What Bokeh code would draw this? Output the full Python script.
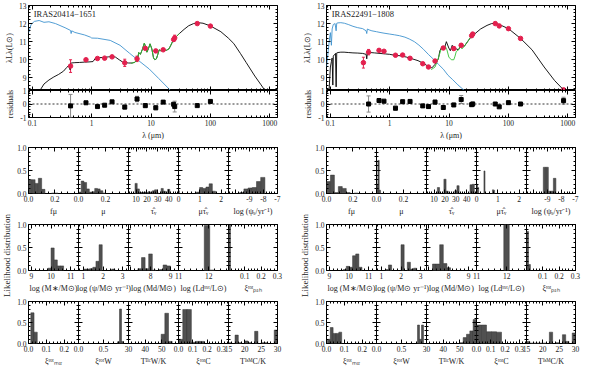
import math
from bokeh.plotting import figure
from bokeh.models import (Range1d, LinearAxis, LogAxis, FixedTicker, SingleIntervalTicker,
                          PrintfTickFormatter, Whisker, ColumnDataSource,
                          TeeHead, Span, Label, CustomJSTickFormatter)
from bokeh.layouts import row, column
from bokeh.embed import file_html
from bokeh.resources import INLINE
from bokeh.core.properties import value

FONT = "Liberation Serif"
TICK_FS = "7.5px"
LAB_FS = "8px"
BLUE = "#3f93cf"
GREEN = "#34c234"
RED = "#e3204e"
BAR = "#505050"

# ======================= DATA : IRAS20414-1651 (left) =======================
L_name = "IRAS20414\u22121651"
L_blue_lam = [0.087, 0.095, 0.108, 0.13, 0.157, 0.19, 0.245, 0.356, 0.44, 0.45, 0.46, 0.52, 0.76, 0.95, 1.0,
              1.25, 2.05, 3.0, 4.3, 6.3, 9.3, 13.5, 21.0]
L_blue_val = [11.51, 11.95, 12.12, 12.17, 12.07, 12.10, 12.0, 11.77, 11.62, 11.45, 11.6, 11.51, 11.37, 11.25,
              11.2, 11.19, 11.07, 10.8, 10.37, 9.93, 9.49, 8.96, 8.32]
L_black_lam = [0.134, 0.157, 0.19, 0.23, 0.277, 0.335, 0.38, 0.415, 0.43, 0.44, 0.45, 0.52, 0.62, 0.76, 0.9,
               1.05, 1.15, 1.3, 1.6, 1.9, 2.2, 2.5, 2.9, 3.3, 3.7, 4.2, 4.8, 5.3, 5.9, 6.2, 6.6, 7.1, 7.7,
               8.1, 8.5, 9.0, 9.6, 10.3, 11.0, 11.6, 12.3, 13.0, 13.7, 14.5, 16.0, 18.0, 20.0, 21.5, 23.0,
               25.0, 27.0, 30.0, 36, 43, 52, 62, 75, 100, 150, 200, 247, 320, 400, 560, 700, 830]
L_black_val = [8.30, 8.66, 8.88, 9.05, 9.19, 9.37, 9.58, 9.70, 9.45, 9.78, 9.82, 9.84, 9.85, 9.87, 9.88,
               9.90, 10.08, 10.12, 10.12, 10.16, 10.18, 10.15, 10.0, 9.88, 9.84, 9.82, 9.82, 9.86, 10.0, 10.4,
               10.3, 10.55, 10.92, 10.7, 10.42, 10.6, 10.88, 10.6, 10.1, 10.0, 10.05, 10.3, 10.55, 10.5,
               10.55, 10.52, 10.6, 10.8, 11.0, 11.15, 11.3, 11.45, 11.68, 11.88, 12.0, 12.05, 12.02, 11.87,
               11.55, 11.2, 10.9, 10.35, 9.85, 9.1, 8.65, 8.3]
L_green_lam = [4.6, 5.3, 5.9, 6.2, 6.6, 7.1, 7.7, 8.1, 8.5, 9.0, 9.6, 10.3, 11.0, 11.6, 12.3, 13.0, 13.7,
               14.5, 16.0, 18.0, 20.0, 21.5, 23.0, 25.0, 27.0, 30.0]
L_green_val = [9.80, 9.86, 10.0, 10.4, 10.3, 10.55, 10.92, 10.7, 10.42, 10.6, 10.88, 10.6, 10.1, 10.0, 10.05,
               10.3, 10.55, 10.5, 10.55, 10.52, 10.6, 10.8, 11.0, 11.15, 11.3, 11.45]
L_obs_lam = [0.44, 0.8, 1.25, 1.65, 2.2, 3.6, 5.8, 8.0, 12.0, 16.0, 24.0, 25.0, 60.0, 100.0]
L_obs_val = [9.65, 10.0, 10.07, 10.09, 10.16, 9.83, 10.05, 10.63, 10.49, 10.55, 11.12, 11.21, 12.0, 11.86]
L_obs_err = [0.35, 0.0, 0.0, 0.0, 0.0, 0.2, 0.15, 0.0, 0.08, 0.0, 0.1, 0.15, 0.0, 0.0]
L_res_val = [-0.14, 0.09, -0.19, -0.09, 0.16, -0.23, 0.37, -0.12, -0.28, 0.14, -0.02, -0.19, -0.12, 0.19]
L_res_err = [0.85, 0.0, 0.0, 0.0, 0.0, 0.15, 0.2, 0.15, 0.15, 0.0, 0.0, 0.4, 0.0, 0.0]

# histograms: (first bin edge, bin width, heights)
L_fmu = (0.0, 0.025, [0.30, 0.30, 0.22, 0.33, 0.09, 0.0, 0.0, 0.01, 0.01])
L_mu = (0.0, 0.02, [0.03, 0.27, 0.24, 0.10, 0.03, 0.04, 0.11, 0.10, 0.06, 0.01])
L_tau = (9.0, 2.0, [0.22, 0.10, 0.02, 0.02, 0.03, 0.02, 0.04, 0.02, 0.06, 0.08, 0.01, 0.0, 0.11, 0.05, 0.0, 0.09])
L_mutau = (0.84, 0.15, [0.03, 0.13, 0.11, 0.14, 0.21, 0.05])
L_mutau0 = (0.0, 0.04, [0.06])
L_psiS = (-9.7, 0.3, [0.02, 0.10, 0.12, 0.13, 0.26, 0.35])
L_Ms = (9.84, 0.16, [0.05, 0.49, 0.23, 0.10, 0.10])
L_psi = (1.0, 0.16, [0.03, 0.03, 0.04, 0.07, 0.20, 0.56, 0.0, 0.0, 0.0, 0.03])
L_Md = (7.37, 0.18, [0.04, 0.28, 0.04, 0.36, 0.01, 0.0, 0.02, 0.12, 0.10])
L_Ld = (11.85, 0.18, [0.98, 0.01])
L_PAH = (0.0, 0.012, [1.0])
L_MIR = (0.013, 0.018, [0.73, 0.27])
L_W = (0.78, 0.04, [0.04, 0.82, 0.05])
L_TBC = (49.6, 2.2, [0.22, 0.72, 0.05])
L_XiC = (0.0, 0.03, [0.10, 0.81, 0.81, 0.03, 0.05, 0.05])
L_TISM = (15.0, 1.0, [0.02, 0.0, 0.20, 0.02, 0.0, 0.06, 0.02, 0.0, 0.29, 0.0, 0.02, 0.02, 0.0, 0.0, 0.32])

# ======================= DATA : IRAS22491-1808 (right) =======================
R_name = "IRAS22491\u22121808"
R_blue_lam = [0.086, 0.092, 0.097, 0.10, 0.104, 0.107, 0.112, 0.12, 0.125, 0.128, 0.134, 0.15, 0.172, 0.2,
              0.24, 0.284, 0.35, 0.40, 0.41, 0.42, 0.45, 0.5, 0.6, 0.686, 0.8, 1.0, 1.2, 1.46, 1.8, 2.13,
              2.6, 3.1, 3.7, 4.53, 5.5, 6.6, 8.0, 9.6, 11.5, 14.1, 18.1]
R_blue_val = [9.6, 10.5, 11.2, 11.5, 10.8, 11.7, 11.95, 12.0, 11.6, 12.02, 12.04, 12.05, 12.02, 11.95,
              11.85, 11.78, 11.72, 11.6, 11.45, 11.7, 11.65, 11.6, 11.55, 11.51, 11.47, 11.42, 11.38, 11.33,
              11.25, 11.15, 11.0, 10.81, 10.58, 10.28, 10.02, 9.75, 9.48, 9.14, 8.9, 8.61, 8.3]
R_black_lam = [0.095, 0.1, 0.104, 0.107, 0.11, 0.112, 0.118, 0.122, 0.125, 0.128, 0.134, 0.15, 0.17, 0.2,
               0.24, 0.29, 0.35, 0.40, 0.41, 0.42, 0.47, 0.55, 0.686, 0.85, 1.0, 1.2, 1.5, 1.9, 2.4, 3.0,
               3.8, 4.5, 5.13, 5.82, 6.6, 7.0, 7.7, 8.3, 9.0, 9.9, 10.5, 11.3, 12.4, 13.2, 14.4, 15.9,
               18.1, 20.5, 23.2, 26.4, 33.9, 43.6, 52, 60, 70, 100, 160, 250, 400, 600, 870]
R_black_val = [8.3, 9.6, 9.9, 10.1, 8.6, 10.2, 10.3, 10.35, 8.5, 10.38, 10.4, 10.42, 10.42, 10.4,
               10.38, 10.37, 10.35, 10.3, 10.05, 10.4, 10.4, 10.38, 10.35, 10.32, 10.3, 10.25, 10.22, 10.15,
               10.05, 9.95, 9.78, 9.62, 9.55, 9.75, 10.05, 10.5, 10.75, 10.6, 11.0, 10.65, 10.5, 10.8,
               10.55, 10.6, 10.55, 10.8, 10.75, 11.0, 11.25, 11.4, 11.7, 11.9, 12.0, 12.02, 11.95, 11.72,
               11.18, 10.55, 9.6, 8.85, 8.3]
R_green_lam = [5.0, 5.8, 6.3, 6.9, 7.5, 8.0, 8.6, 9.2, 9.9, 10.9, 12.0, 12.6, 13.2, 14.4, 15.5, 16.5, 18.1,
               20.5, 23.2, 26.4]
R_green_val = [9.45, 9.6, 9.9, 10.3, 10.7, 10.55, 10.75, 10.55, 10.15, 10.0, 10.0, 10.2, 10.45, 10.55,
               10.75, 10.6, 10.75, 11.0, 11.25, 11.4]
R_obs_lam = [0.36, 0.44, 0.66, 0.8, 1.25, 1.65, 2.2, 3.6, 4.5, 5.8, 8.0, 12.0, 16.0, 24.0, 25.0, 60.0,
             70.0, 100.0, 160.0, 850.0]
R_obs_val = [9.84, 10.42, 10.52, 10.47, 10.25, 10.26, 10.08, 9.78, 9.6, 9.93, 10.65, 10.62, 10.8, 11.33,
             11.42, 12.0, 11.87, 11.72, 11.18, 8.33]
R_obs_err = [0.3, 0.15, 0.0, 0.0, 0.0, 0.0, 0.0, 0.0, 0.0, 0.08, 0.0, 0.08, 0.1, 0.0, 0.08, 0.0, 0.0, 0.0,
             0.0, 0.1]
R_res_lam = [0.44, 0.66, 0.8, 1.25, 1.65, 2.2, 3.6, 4.5, 5.8, 8.0, 12.0, 16.0, 24.0, 25.0, 60.0, 70.0,
             100.0, 160.0, 850.0]
R_res_val = [0.0, 0.26, 0.21, -0.31, 0.17, 0.19, -0.14, -0.19, 0.14, -0.26, -0.07, 0.33, -0.05, 0.0, 0.0,
             -0.21, 0.1, 0.0, 0.25]
R_res_err = [0.6, 0.0, 0.0, 0.15, 0.12, 0.1, 0.1, 0.12, 0.15, 0.12, 0.12, 0.3, 0.1, 0.15, 0.0, 0.0, 0.0,
             0.0, 0.25]

R_fmu = (0.0, 0.03, [0.26, 0.40, 0.02, 0.15, 0.11, 0.02, 0.0, 0.01])
R_mu = (0.0, 0.01, [0.20, 0.72, 0.07])
R_tau = (13.0, 2.0, [0.13, 0.0, 0.0, 0.31, 0.05, 0.0, 0.0, 0.0, 0.06, 0.17, 0.0, 0.0, 0.0, 0.0, 0.0, 0.19, 0.20])
R_mutau = (0.0, 0.05, [0.20, 0.13, 0.0, 0.0, 0.0, 0.0, 0.0, 0.49, 0.0, 0.0, 0.0, 0.0, 0.0, 0.0, 0.0, 0.08, 0.07])
R_psiS = (-9.3, 0.18, [0.57, 0.57, 0.05, 0.05, 0.33])
R_Ms = (9.7, 0.16, [0.02, 0.09, 0.07, 0.32, 0.36, 0.07])
R_psi = (1.2, 0.16, [0.02, 0.12, 0.0, 0.0, 0.0, 0.56, 0.0, 0.18, 0.03, 0.05])
R_Md = (7.2, 0.18, [0.14, 0.14, 0.56, 0.15, 0.06])
R_Ld = (11.9, 0.18, [1.0])
R_PAH = (0.0, 0.012, [0.85, 0.13])
R_MIR = (0.005, 0.016, [0.10, 0.38, 0.24, 0.24, 0.27])
R_W = (0.82, 0.04, [0.44, 0.10, 0.44])
R_TBC = (50.0, 2.0, [0.02, 0.14, 0.22, 0.30, 0.57])
R_XiC = (0.0, 0.035, [0.44, 0.44, 0.28, 0.28, 0.27])
R_TISM = (15.0, 1.0, [0.05, 0.01, 0.01, 0.01, 0.01, 0.01, 0.0, 0.27, 0.0, 0.02, 0.0, 0.21, 0.05, 0.0, 0.25])

# axis specs for the 3x5 histogram grid: (range, major step, minor count, labels hidden, format, title)
AX_ROWS = [
    [((0.0, 0.38), 0.2, 4, [], "%.1f", "f\u03bc"),
     ((0.0, 0.37), 0.2, 4, [], "%.1f", "\u03bc"),
     ((3.0, 49.0), 10, 5, [], "%d", "\u03c4\u0302\u1d65"),
     ((0.0, 2.35), 1, 5, [], "%d", "\u03bc\u03c4\u0302\u1d65"),
     ((-10.5, -6.999), 1, 5, [-10], "%d", "log (\u03c8\u209b/yr\u207b\u00b9)")],
    [((8.85, 11.4), 1, 5, [], "%d", "log (M\u2217/M\u2299)"),
     ((0.75, 3.3), 1, 5, [], "%d", "log (\u03c8/M\u2299 yr\u207b\u00b9)"),
     ((6.9, 9.4), 1, 5, [7], "%d", "log (Md/M\u2299)"),
     ((10.999, 12.65), 1, 5, [], "%d", "log (Ld\u1d57\u1d52\u1d57/L\u2299)"),
     ((0.0, 0.3005), 0.1, 5, [0], "%.1f", "\u03be\u1d57\u1d52\u1d57\u209a\u2090\u2095")],
    [((0.0, 0.28), 0.1, 5, [], "%.1f", "\u03be\u1d57\u1d52\u1d57\u2098\u1d62\u1d63"),
     ((0.0, 1.0), 0.5, 5, [1], "%.1f", "\u03be\u1d57\u1d52\u1d57W"),
     ((29.999, 60.0), 10, 5, [60], "%d", "T\u1d2e\u1d9cW/K"),
     ((0.0, 0.35), 0.1, 5, [], "%.1f", "\u03be\u1d57\u1d52\u1d57C"),
     ((14.999, 30.001), 5, 5, [], "%d", "T\u1d35\u02e2\u1d39C/K")],
]
L_HIST = [[L_fmu, L_mu, L_tau, L_mutau, L_psiS], [L_Ms, L_psi, L_Md, L_Ld, L_PAH],
          [L_MIR, L_W, L_TBC, L_XiC, L_TISM]]
R_HIST = [[R_fmu, R_mu, R_tau, R_mutau, R_psiS], [R_Ms, R_psi, R_Md, R_Ld, R_PAH],
          [R_MIR, R_W, R_TBC, R_XiC, R_TISM]]
L_EXTRA = {(0, 3): L_mutau0}

LAM_MAJOR = [0.1, 1, 10, 100, 1000]
LAM_MINOR = [m * 10.0 ** k for k in range(-2, 4) for m in range(2, 10)]


# ======================= helpers =======================
def style_axis(ax, labels=True, fmt=None):
    ax.major_tick_in = 4
    ax.major_tick_out = 0
    ax.minor_tick_in = 2
    ax.minor_tick_out = 0
    ax.axis_line_color = None
    ax.major_tick_line_color = "black"
    ax.minor_tick_line_color = "black"
    ax.major_label_text_font = FONT
    ax.major_label_text_color = "#222222"
    ax.axis_label_text_font = FONT
    ax.axis_label_text_font_style = "normal"
    ax.axis_label_text_font_size = LAB_FS
    ax.axis_label_text_color = "#222222"
    ax.axis_label_standoff = 2
    if labels:
        ax.major_label_text_font_size = TICK_FS
        ax.major_label_standoff = 2
        if fmt:
            ax.formatter = PrintfTickFormatter(format=fmt)
    else:
        ax.formatter = CustomJSTickFormatter(code="return ''")
        ax.major_label_text_font_size = "1px"
        ax.major_label_standoff = 0


def base_fig(**kw):
    p = figure(output_backend="svg", toolbar_location=None, border_fill_color=None,
               background_fill_color="white", outline_line_color="black", outline_line_width=1, **kw)
    p.xgrid.visible = False
    p.ygrid.visible = False
    return p


def add_mirror(p, xticker, yticker, log=False):
    top = LogAxis(ticker=xticker) if log else LinearAxis(ticker=xticker)
    p.add_layout(top, "above")
    p.add_layout(LinearAxis(ticker=yticker), "right")
    style_axis(top, labels=False)
    style_axis(p.right[0], labels=False)


def sed_panels(name, blue, black, green, obs, res, BR):
    W = 28 + 249 + BR
    xr = Range1d(0.086, 1350)
    p = base_fig(width=W, height=90, x_axis_type="log", x_range=xr, y_range=Range1d(8.3, 13.0),
                 min_border_left=28, min_border_right=BR, min_border_top=5, min_border_bottom=0)
    p.line(blue[0], blue[1], line_color=BLUE, line_width=0.9)
    p.line(black[0], black[1], line_color="black", line_width=0.9)
    p.line(green[0], green[1], line_color=GREEN, line_width=0.9)
    lam, val, err = obs
    e_src = ColumnDataSource(dict(x=[l for l, e in zip(lam, err) if e > 0],
                                  lo=[v - e for v, e in zip(val, err) if e > 0],
                                  hi=[v + e for v, e in zip(val, err) if e > 0]))
    p.add_layout(Whisker(source=e_src, base="x", lower="lo", upper="hi", line_color=RED, line_width=1,
                         lower_head=TeeHead(size=3, line_color=RED), upper_head=TeeHead(size=3, line_color=RED)))
    p.scatter(lam, val, size=4.5, marker="circle", fill_color=RED, line_color=RED)
    p.add_layout(Label(x=0.105, y=12.53, text=name, text_font=FONT, text_font_size="8.5px",
                       text_baseline="middle", text_color="#222222"))
    p.below[0].ticker = FixedTicker(ticks=LAM_MAJOR, minor_ticks=LAM_MINOR)
    p.left[0].ticker = SingleIntervalTicker(interval=1, num_minor_ticks=5)
    style_axis(p.below[0], labels=False)
    style_axis(p.left[0], labels=True, fmt="%d")
    p.left[0].axis_label = "\u03bbL\u03bb(L\u2299)"
    add_mirror(p, FixedTicker(ticks=LAM_MAJOR, minor_ticks=LAM_MINOR),
               SingleIntervalTicker(interval=1, num_minor_ticks=5), log=True)

    rlam, rval, rerr = res
    q = base_fig(width=W, height=6 + 28 + 24, x_axis_type="log", x_range=xr, y_range=Range1d(-1, 1),
                 min_border_left=28, min_border_right=BR, min_border_top=6, min_border_bottom=24,
                 margin=(-6, 0, 0, 0))
    q.add_layout(Span(location=0, dimension="width", line_color="black", line_dash="2 2", line_width=0.8))
    r_src = ColumnDataSource(dict(x=[l for l, e in zip(rlam, rerr) if e > 0],
                                  lo=[v - e for v, e in zip(rval, rerr) if e > 0],
                                  hi=[v + e for v, e in zip(rval, rerr) if e > 0]))
    q.add_layout(Whisker(source=r_src, base="x", lower="lo", upper="hi", line_color="#8a8a8a", line_width=1,
                         lower_head=TeeHead(size=4, line_color="#8a8a8a"),
                         upper_head=TeeHead(size=4, line_color="#8a8a8a")))
    q.scatter(rlam, rval, size=4, marker="square", fill_color="black", line_color="black")
    q.below[0].ticker = FixedTicker(ticks=LAM_MAJOR, minor_ticks=LAM_MINOR)
    q.left[0].ticker = SingleIntervalTicker(interval=1, num_minor_ticks=5)
    style_axis(q.below[0], labels=True, fmt="%g")
    style_axis(q.left[0], labels=True, fmt="%d")
    q.below[0].axis_label = "\u03bb (\u03bcm)"
    q.left[0].axis_label = "residuals"
    add_mirror(q, FixedTicker(ticks=LAM_MAJOR, minor_ticks=LAM_MINOR),
               SingleIntervalTicker(interval=1, num_minor_ticks=5), log=True)
    return p, q


FRAME_W = [50, 50, 50, 50, 49]


def hist_panel(spec, bars, idx, BR, bottom, extra=None):
    rng, major, nminor, hide, fmt, title = spec
    bl = 16 if idx == 0 else 8
    br = BR if idx == 4 else 8
    p = base_fig(width=bl + FRAME_W[idx] + br, height=5 + 46 + bottom, x_range=Range1d(*rng),
                 y_range=Range1d(0, 1.0), min_border_left=bl, min_border_right=br, min_border_top=5,
                 min_border_bottom=bottom, margin=(0, 0, 0, 0) if idx == 0 else (0, 0, 0, -16))
    for b in [bars] + ([extra] if extra else []):
        x0, w, h = b
        left = [x0 + i * w for i, v in enumerate(h) if v > 0]
        right = [x0 + (i + 1) * w for i, v in enumerate(h) if v > 0]
        top = [v for v in h if v > 0]
        p.quad(left=left, right=right, bottom=0, top=top, fill_color=BAR, line_color="#333333",
               line_width=0.5)
    p.below[0].ticker = SingleIntervalTicker(interval=major, num_minor_ticks=nminor)
    p.left[0].ticker = SingleIntervalTicker(interval=0.5, num_minor_ticks=5)
    style_axis(p.below[0], labels=True, fmt=fmt)
    p.below[0].axis_label = title
    if hide:
        p.below[0].major_label_overrides = {h: "" for h in hide}
    style_axis(p.left[0], labels=(idx == 0), fmt="%.1f")
    add_mirror(p, SingleIntervalTicker(interval=major, num_minor_ticks=nminor),
               SingleIntervalTicker(interval=0.5, num_minor_ticks=5))
    return p


def half(name, blue, black, green, obs, res, hists, extra, BR):
    sed, resid = sed_panels(name, blue, black, green, obs, res, BR)
    rows = []
    for r in range(3):
        bottom = 26 if r < 2 else 21
        panels = [hist_panel(AX_ROWS[r][c], hists[r][c], c, BR, bottom, extra.get((r, c)))
                  for c in range(5)]
        rows.append(row(*panels))
    lab = figure(width=12, height=226, x_range=Range1d(0, 1), y_range=Range1d(0, 1),
                 output_backend="svg", toolbar_location=None, min_border=0, x_axis_location=None,
                 y_axis_location=None, outline_line_color=None, border_fill_color=None,
                 background_fill_color=None)
    lab.xgrid.visible = False
    lab.ygrid.visible = False
    lab.text(x=[0.5], y=[0.5], text=["Likelihood distribution"], angle=math.pi / 2, text_align="center",
             text_baseline="middle", text_font=value(FONT), text_font_size="9px", text_color="#222222")
    return column(sed, resid, row(lab, column(*rows)))


left = half(L_name, (L_blue_lam, L_blue_val), (L_black_lam, L_black_val), (L_green_lam, L_green_val),
            (L_obs_lam, L_obs_val, L_obs_err), (L_obs_lam, L_res_val, L_res_err), L_HIST, L_EXTRA, 21)
right = half(R_name, (R_blue_lam, R_blue_val), (R_black_lam, R_black_val), (R_green_lam, R_green_val),
             (R_obs_lam, R_obs_val, R_obs_err), (R_res_lam, R_res_val, R_res_err), R_HIST, {}, 9)
layout = row(left, right)

open("out.html", "w").write(file_html(layout, INLINE))
